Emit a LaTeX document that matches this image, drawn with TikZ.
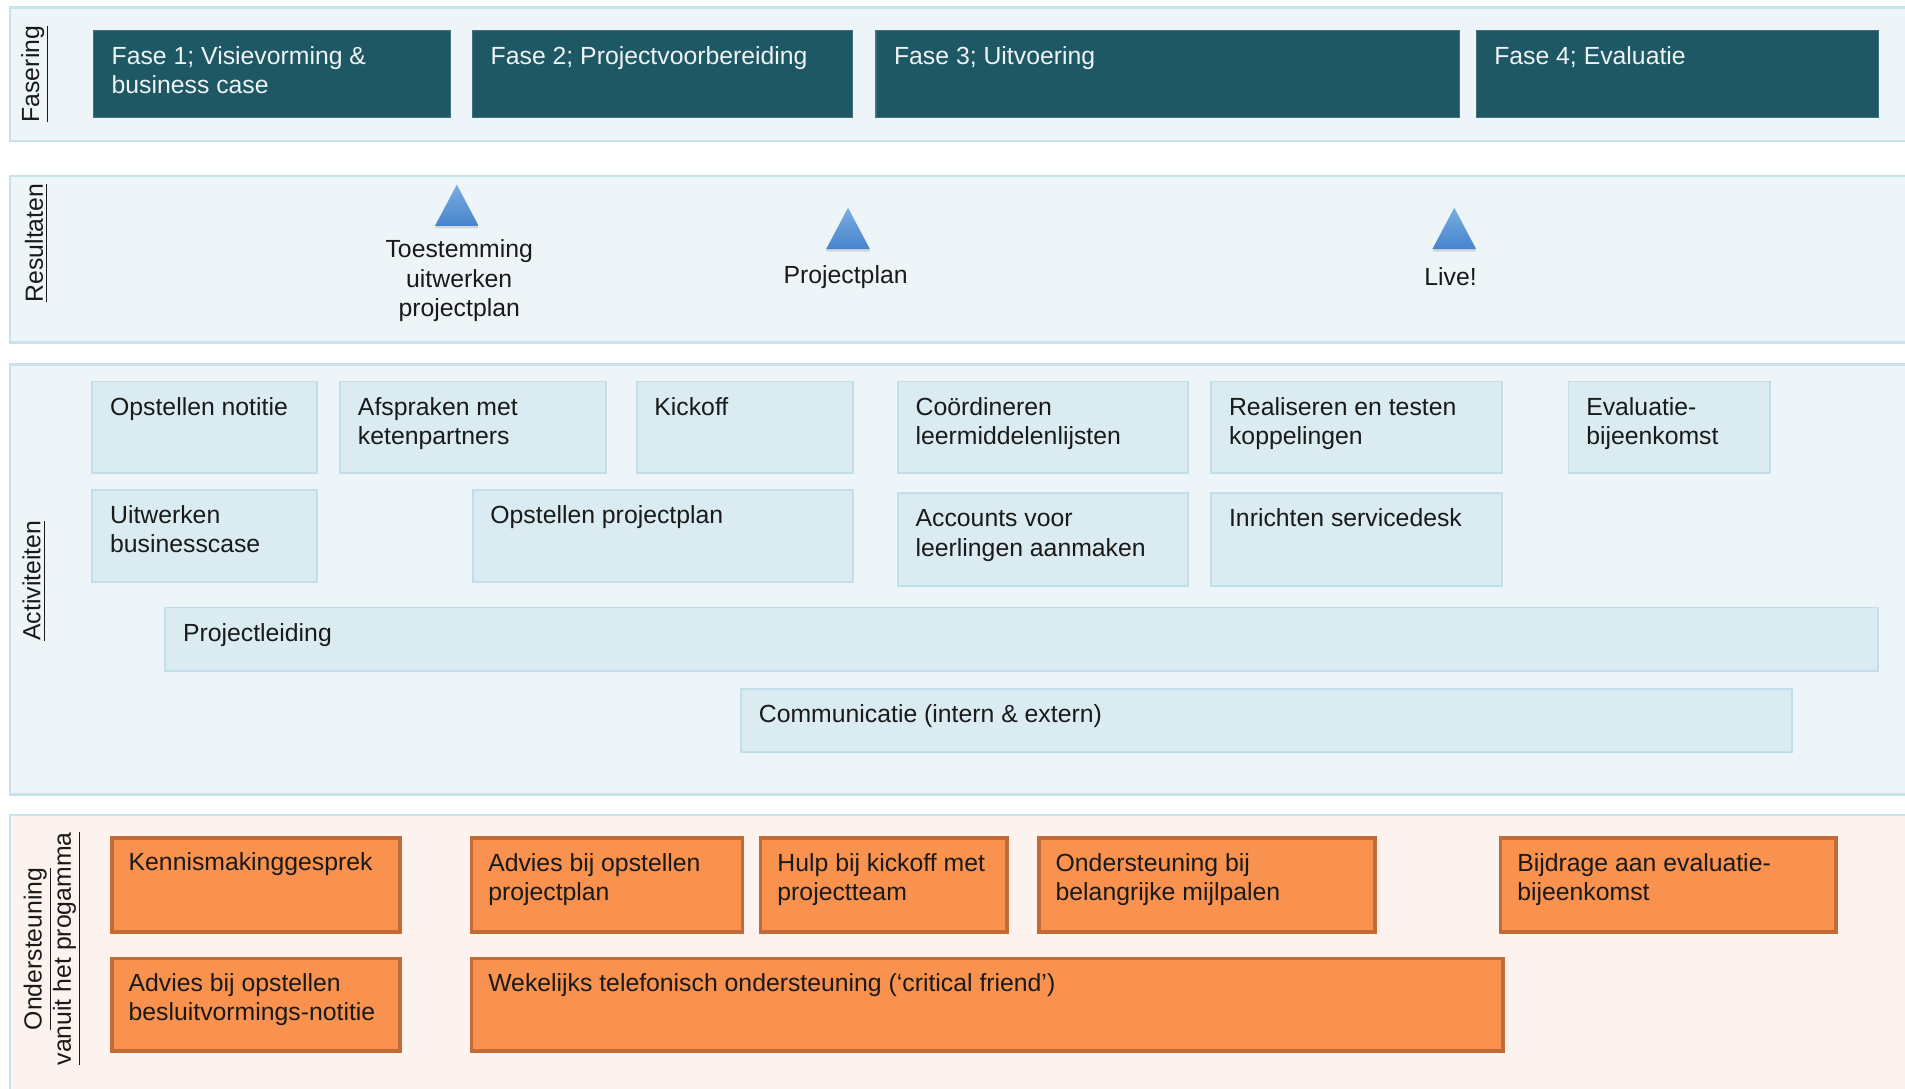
\documentclass[tikz,border=0pt]{standalone}
\usepackage{fontspec}
\setmainfont{Liberation Sans}
\usetikzlibrary{fit,shadows}
\definecolor{panelfill}{HTML}{EDF5F8}
\definecolor{panelborder}{HTML}{C8E2EB}
\definecolor{peach}{HTML}{FDF3EE}
\definecolor{fasefill}{HTML}{1E5865}
\definecolor{fasetext}{HTML}{EEF3F4}
\definecolor{actfill}{HTML}{DAECF2}
\definecolor{actborder}{HTML}{C2DEE8}
\definecolor{orfill}{HTML}{F9914F}
\definecolor{orborder}{HTML}{C26B36}
\definecolor{txtcol}{HTML}{1A1A1A}
\definecolor{trilight}{HTML}{7AAEE2}
\definecolor{tridark}{HTML}{4783CC}
\newcommand\mybox[8]{%
  \path (#4,#5) coordinate (#1-a) (#6,#7) coordinate (#1-b);
  \node[#2, fit=(#1-a)(#1-b)] (#1) {};
  \node[#3, anchor=north west, align=left, inner sep=0pt] (#1-t) at ([xshift=7.5pt,yshift=-6pt]#1.north west) {\rule{0pt}{8pt}#8};
}
\begin{document}
\begin{tikzpicture}[x=0.5pt,y=-0.5pt,
  every node/.style={font=\fontsize{10.2}{12}\selectfont, text=txtcol},
  panel/.style={fill=panelfill, draw=panelborder, line width=1pt},
  panelO/.style={fill=peach, draw=panelborder, line width=1pt},
  fasebox/.style={fill=fasefill, draw=fasefill!85!white, line width=0.5pt, inner sep=0pt},
  actbox/.style={fill=actfill, draw=actborder, line width=0.75pt, inner sep=0pt},
  orbox/.style={fill=orfill, draw=orborder, line width=1.5pt, inner sep=0pt,
     drop shadow={opacity=0.2, shadow xshift=0.6pt, shadow yshift=-0.6pt}},
  wtxt/.style={text=fasetext},
  btxt/.style={text=txtcol},
  sidelab/.style={rotate=90, align=center, inner sep=0pt},
  tri/.style={top color=trilight, bottom color=tridark, draw=none,
     drop shadow={opacity=0.25, shadow xshift=0pt, shadow yshift=-1pt}},
  reslab/.style={align=center, inner sep=0pt}
]
\useasboundingbox (0,0) rectangle (1568,896);
\clip (0,0) rectangle (1568,896);
\fill[white] (0,0) rectangle (1568,896);

% panels
\draw[panel] (8,6) rectangle (1590,116);
\draw[panel] (8,145) rectangle (1590,282);
\draw[panel] (8,300) rectangle (1590,654);
\draw[panelO] (8,671) rectangle (1590,910);

% side labels
\node[sidelab] (lfas) at (29,61) {\underline{Fasering}};
\node[sidelab] (lres) at (30,200) {\underline{Resultaten}};
\node[sidelab] (lact) at (28,478) {\underline{Activiteiten}};
\node[sidelab] (lond) at (43,781) {\underline{Ondersteuning}\\\underline{vanuit het progamma}};

% phases
\mybox{f1}{fasebox}{wtxt}{77}{25}{371}{97}{Fase 1; Visievorming \&\\business case}
\mybox{f2}{fasebox}{wtxt}{389}{25}{702}{97}{Fase 2; Projectvoorbereiding}
\mybox{f3}{fasebox}{wtxt}{721}{25}{1201}{97}{Fase 3; Uitvoering}
\mybox{f4}{fasebox}{wtxt}{1215}{25}{1546}{97}{Fase 4; Evaluatie}

% results
\path[tri] (358,186) -- (376,152) -- (394,186) -- cycle;
\path[tri] (680,205) -- (698,171) -- (716,205) -- cycle;
\path[tri] (1179,205) -- (1197,171) -- (1215,205) -- cycle;
\node[reslab] (r1) at (378,231) {Toestemming\\uitwerken\\projectplan};
\node[reslab] (r2) at (696,228) {Projectplan};
\node[reslab] (r3) at (1194,228) {Live!};

% activities
\mybox{a1}{actbox}{btxt}{76}{314}{261}{389}{Opstellen notitie}
\mybox{a2}{actbox}{btxt}{280}{314}{499}{389}{Afspraken met\\ketenpartners}
\mybox{a3}{actbox}{btxt}{524}{314}{702}{389}{Kickoff}
\mybox{a4}{actbox}{btxt}{739}{314}{978}{389}{Coördineren\\leermiddelenlijsten}
\mybox{a5}{actbox}{btxt}{997}{314}{1236}{389}{Realiseren en testen\\koppelingen}
\mybox{a6}{actbox}{btxt}{1291}{314}{1457}{389}{Evaluatie-\\bijeenkomst}
\mybox{a7}{actbox}{btxt}{76}{403}{261}{479}{Uitwerken\\businesscase}
\mybox{a8}{actbox}{btxt}{389}{403}{702}{479}{Opstellen projectplan}
\mybox{a9}{actbox}{btxt}{739}{406}{978}{482}{Accounts voor\\leerlingen aanmaken}
\mybox{a10}{actbox}{btxt}{997}{406}{1236}{482}{Inrichten servicedesk}
\mybox{a11}{actbox}{btxt}{136}{500}{1546}{552}{Projectleiding}
\mybox{a12}{actbox}{btxt}{610}{567}{1475}{619}{Communicatie (intern \& extern)}

% support
\mybox{s1}{orbox}{btxt}{92}{690}{329}{767}{Kennismakinggesprek}
\mybox{s2}{orbox}{btxt}{388}{690}{611}{767}{Advies bij opstellen\\projectplan}
\mybox{s3}{orbox}{btxt}{626}{690}{829}{767}{Hulp bij kickoff met\\projectteam}
\mybox{s4}{orbox}{btxt}{855}{690}{1132}{767}{Ondersteuning bij\\belangrijke mijlpalen}
\mybox{s5}{orbox}{btxt}{1235}{690}{1511}{767}{Bijdrage aan evaluatie-\\bijeenkomst}
\mybox{s6}{orbox}{btxt}{92}{789}{329}{865}{Advies bij opstellen\\besluitvormings-notitie}
\mybox{s7}{orbox}{btxt}{388}{789}{1237}{865}{Wekelijks telefonisch ondersteuning (‘critical friend’)}
\end{tikzpicture}
\end{document}
